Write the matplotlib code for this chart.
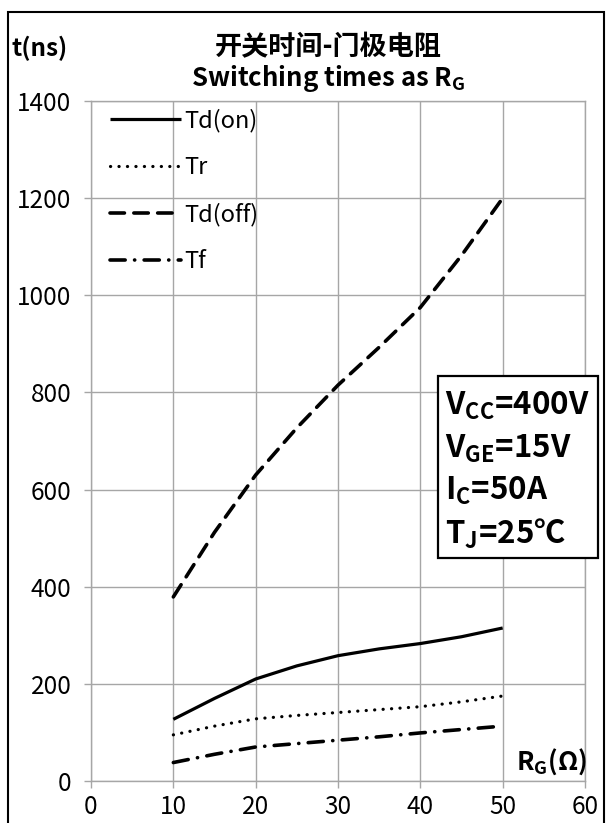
import matplotlib

matplotlib.use("Agg")
import matplotlib.pyplot as plt
from matplotlib.patches import Rectangle

plt.rcParams["font.family"] = ["Noto Sans CJK SC", "DejaVu Sans"]
plt.rcParams["mathtext.fontset"] = "custom"
plt.rcParams["mathtext.rm"] = "Noto Sans CJK SC"
plt.rcParams["mathtext.bf"] = "Noto Sans CJK SC:bold"
plt.rcParams["mathtext.it"] = "Noto Sans CJK SC"

# gate resistance (ohm)
rg = [10, 15, 20, 25, 30, 35, 40, 45, 50]
# switching times (ns)
td_on = [127, 170, 210, 237, 258, 272, 283, 297, 315]
tr = [95, 113, 128, 135, 141, 147, 153, 163, 175]
td_off = [379, 512, 630, 727, 815, 893, 975, 1082, 1200]
tf = [38, 55, 70, 77, 84, 91, 99, 106, 113]

x_ticks = [0, 10, 20, 30, 40, 50, 60]
y_ticks = [0, 200, 400, 600, 800, 1000, 1200, 1400]
conditions = [r"V$_{\mathbf{CC}}$=400V", r"V$_{\mathbf{GE}}$=15V",
              r"I$_{\mathbf{C}}$=50A", r"T$_{\mathbf{J}}$=25℃"]

W, H = 608, 823
fig = plt.figure(figsize=(W / 100, H / 100), dpi=100)
ax = fig.add_axes([91 / W, 1 - 781 / H, (585 - 91) / W, (781 - 101) / H])

grid_c = "#a6a6a6"
lw = 2.3
ax.plot(rg, td_on, color="black", lw=lw, ls="-", label="Td(on)", solid_capstyle="butt")
ax.plot(rg, tr, color="black", lw=lw, ls=(0, (0.05, 2.6)), dash_capstyle="round", label="Tr")
ax.plot(rg, td_off, color="black", lw=lw + 0.3, ls=(0, (4.0, 2.6)), dash_capstyle="round", label="Td(off)")
ax.plot(rg, tf, color="black", lw=lw + 0.3, ls=(0, (4.2, 2.6, 0.05, 2.6)), dash_capstyle="round", label="Tf")

ax.set_xlim(0, 60)
ax.set_ylim(0, 1400)
ax.set_xticks(x_ticks)
ax.set_yticks(y_ticks)
ax.grid(True, color=grid_c, lw=1.0)
for s in ax.spines.values():
    s.set_color(grid_c)
    s.set_linewidth(1.0)
ax.tick_params(axis="both", colors=grid_c, length=5, width=1.0, labelsize=17.5, labelcolor="black")
ax.tick_params(axis="x", pad=4)
ax.tick_params(axis="y", pad=9)

leg = ax.legend(loc="upper left", bbox_to_anchor=(0.02, 1.002), frameon=False, fontsize=17,
                handlelength=3.0, handletextpad=0.15, labelspacing=1.0, borderaxespad=0)

ax.text(55.9, 40, r"R$_{\mathbf{G}}$(Ω)", ha="center", va="center", fontsize=18.5, fontweight="bold")

fig.text(40 / W, 1 - 48 / H, "t(ns)", ha="center", va="center", fontsize=17.5, fontweight="bold")
fig.text(328 / W, 1 - 47 / H, "开关时间-门极电阻", ha="center", va="center", fontsize=19.5, fontweight="bold")
fig.text(328 / W, 1 - 78 / H, r"Switching times as R$_{\mathbf{G}}$", ha="center", va="center",
         fontsize=18.5, fontweight="bold")

# condition box
fig.patches.append(Rectangle((438 / W, 1 - 558 / H), 160 / W, 182 / H, transform=fig.transFigure,
                             facecolor="white", edgecolor="black", lw=1.6, zorder=5))
for i, txt in enumerate(conditions):
    fig.text(445 / W, 1 - (406 + 42.5 * i) / H, txt, ha="left", va="center", fontsize=22.5,
             fontweight="bold", zorder=6)

# outer frame
fig.patches.append(Rectangle((8 / W, -0.01), 596 / W, 1 - 12 / H + 0.01, transform=fig.transFigure,
                             facecolor="none", edgecolor="black", lw=1.5))

fig.savefig("out.png", dpi=100)
